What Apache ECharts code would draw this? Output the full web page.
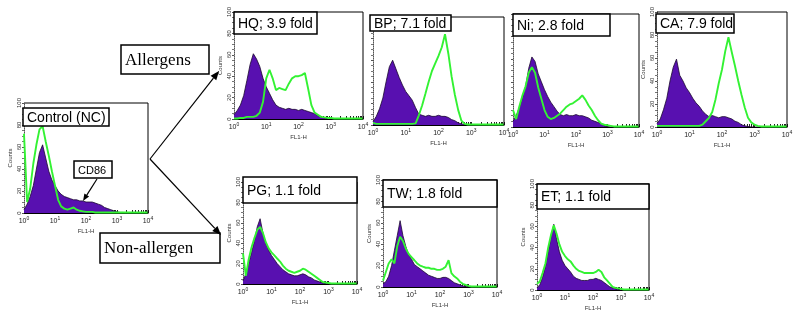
<!DOCTYPE html>
<html>
<head>
<meta charset="utf-8">
<script src="https://cdn.jsdelivr.net/npm/echarts@6/dist/echarts.min.js"></script>
<style>
  html, body { margin: 0; padding: 0; background: #fff; }
  #chart { width: 800px; height: 315px; }
</style>
</head>
<body>
<div id="chart"></div>
<script>
// FL1-H channels, 10 per decade (10^0 .. 10^4)
const channels = [1, 1.26, 1.58, 2, 2.51, 3.16, 3.98, 5.01, 6.31, 7.94,
  10, 12.6, 15.8, 20, 25.1, 31.6, 39.8, 50.1, 63.1, 79.4,
  100, 126, 158, 200, 251, 316, 398, 501, 631, 794,
  1000, 1259, 1585, 1995, 2512, 3162, 3981, 5012, 6310, 7943, 10000]
const decadeTicks = [1, 10, 100, 1000, 10000]

// counts per channel: purple = base histogram, green = treated overlay
const ncBase = [3, 8, 15, 25, 40, 55, 62, 50, 38, 30,
  25, 20, 17, 15, 14, 13, 12, 12, 11, 11,
  10, 10, 10, 9, 8, 7, 5, 4, 3, 2,
  1, 0.5, 0.5, 0, 0, 0, 0, 0, 0, 0, 0]
const ncTreated = [72, 10, 22, 45, 62, 76, 79, 65, 52, 38,
  25, 12, 6, 4, 3, 4, 5, 3, 2, 1.5,
  1, 1, 1, 0.5, 0.5, 0.5, 0.5, 0.5, 0.5, 0.5,
  0.5, 0.5, 0.5, 0.5, 0.5, 0.5, 0.5, 0.5, 0.5, 0.5, 0.5]

const hqBase = [4, 8, 13, 22, 36, 51, 61, 56, 49, 38,
  30, 24, 18, 13, 11, 10, 9, 10, 9, 9,
  8, 9, 8, 7, 6, 5, 3, 2, 1, 0.5,
  0, 0, 0, 0, 0, 0, 0, 0, 0, 0, 0]
const hqTreated = [0.5, 0.5, 1, 1, 2, 2, 2, 3, 6, 16,
  38, 46, 38, 27, 29, 28, 27, 33, 38, 40,
  40, 41, 43, 28, 13, 6, 4, 2, 1.5, 1,
  1, 0.5, 0.5, 0.5, 0.5, 0.5, 0.5, 0.5, 0.5, 0.5, 0.5]

const bpBase = [3, 8, 15, 25, 40, 54, 60, 52, 44, 37,
  31, 27, 23, 16, 10, 9, 8, 9, 8, 8,
  9, 8, 8, 7, 5, 4, 2, 1, 0.5, 0,
  0, 0, 0, 0, 0, 0, 0, 0, 0, 0, 0]
const bpTreated = [2, 1, 1, 1, 1, 1, 1, 1, 1, 1,
  1, 1, 1, 1.5, 9, 18, 29, 40, 50, 57,
  64, 72, 84, 66, 45, 28, 14, 4, 1, 0.5,
  0.5, 0.5, 0.5, 0.5, 0.5, 0.5, 0.5, 0.5, 0.5, 0.5, 0.5]

const niBase = [5, 10, 17, 26, 36, 52, 62, 58, 47, 40,
  33, 27, 22, 18, 14, 11, 10, 11, 10, 10,
  11, 10, 10, 9, 8, 6, 5, 4, 3, 1,
  0.5, 0, 0, 0, 0, 0, 0, 0, 0, 0, 0]
const niTreated = [15, 7, 18, 28, 36, 48, 53, 48, 35, 25,
  15, 9, 7, 8, 10, 12, 15, 18, 20, 21,
  23, 25, 28, 24, 19, 15, 10, 6, 3, 2,
  1.5, 1, 0.5, 0.5, 0.5, 0.5, 0.5, 0.5, 0.5, 0.5, 0.5]

const caBase = [3, 7, 15, 25, 40, 52, 59, 45, 40, 34,
  30, 25, 21, 18, 14, 11, 9, 10, 9, 8,
  9, 9, 8, 7, 5, 4, 2, 1, 0.5, 0,
  0, 0, 0, 0, 0, 0, 0, 0, 0, 0, 0]
const caTreated = [1, 1, 1, 1, 1, 1, 1, 1, 1, 1,
  1, 1, 1, 1, 2, 5, 8, 13, 24, 38,
  50, 66, 78, 65, 53, 40, 28, 17, 8, 4,
  2, 1, 0.5, 0.5, 0.5, 0.5, 0.5, 0.5, 0.5, 0.5, 0.5]

const pgBase = [3, 10, 20, 31, 42, 56, 64, 50, 40, 33,
  28, 24, 20, 17, 14, 12, 10, 9, 8, 8,
  9, 10, 9, 7, 6, 4, 3, 2, 1, 0.5,
  0, 0, 0, 0, 0, 0, 0, 0, 0, 0, 0]
const pgTreated = [30, 8, 24, 36, 45, 53, 56, 50, 41, 35,
  31, 28, 25, 22, 18, 15, 13, 12, 11, 12,
  13, 15, 14, 12, 10, 8, 6, 4, 2, 1.5,
  1, 0.5, 0.5, 0.5, 0.5, 0.5, 0.5, 0.5, 0.5, 0.5, 0.5]

const twBase = [3, 5, 10, 20, 34, 48, 62, 48, 38, 30,
  26, 21, 19, 17, 15, 13, 11, 10, 9, 8,
  8, 9, 9, 8, 6, 4, 3, 2, 1, 0.5,
  0, 0, 0, 0, 0, 0, 0, 0, 0, 0, 0]
const twTreated = [6, 14, 22, 26, 22, 38, 47, 43, 36, 31,
  28, 25, 22, 20, 19, 18, 18, 17, 17, 16,
  16, 17, 19, 25, 13, 10, 8, 5, 3, 2,
  1, 0.5, 0.5, 0.5, 0.5, 0.5, 0.5, 0.5, 0.5, 0.5, 0.5]

const etBase = [2, 5, 12, 22, 36, 50, 62, 48, 36, 28,
  23, 20, 17, 13, 11, 10, 9, 9, 9, 10,
  10, 11, 10, 9, 7, 5, 3, 2, 1, 0.5,
  0, 0, 0, 0, 0, 0, 0, 0, 0, 0, 0]
const etTreated = [6, 8, 16, 25, 40, 52, 61, 53, 43, 36,
  32, 29, 27, 23, 20, 18, 17, 16, 16, 16,
  16, 17, 19, 17, 12, 9, 6, 3, 2, 1.5,
  1, 0.5, 0.5, 0.5, 0.5, 0.5, 0.5, 0.5, 0.5, 0.5, 0.5]

const panelTitles = ['Control (NC)', 'HQ; 3.9 fold', 'BP; 7.1 fold', 'Ni; 2.8 fold',
  'CA; 7.9 fold', 'PG; 1.1 fold', 'TW; 1.8 fold', 'ET; 1.1 fold']

// layout: plot rect [left, top, width, height] and title box rect
const panels = [
  { base: ncBase, treated: ncTreated, grid: [24, 103, 124, 110], box: [23, 108, 86, 18], yLabels: true },
  { base: hqBase, treated: hqTreated, grid: [234, 12, 129, 107], box: [234, 12, 83, 22], yLabels: true },
  { base: bpBase, treated: bpTreated, grid: [373, 17, 131, 108], box: [370, 15, 81, 16], yLabels: false },
  { base: niBase, treated: niTreated, grid: [513, 14, 126, 113], box: [513, 14, 97, 22], yLabels: false },
  { base: caBase, treated: caTreated, grid: [657, 12, 130, 115], box: [656, 14, 78, 19], yLabels: true },
  { base: pgBase, treated: pgTreated, grid: [243, 182, 114, 102], box: [243, 177, 114, 26], yLabels: true },
  { base: twBase, treated: twTreated, grid: [383, 180, 114, 107], box: [383, 180, 114, 27], yLabels: true },
  { base: etBase, treated: etTreated, grid: [537, 184, 112, 106], box: [537, 184, 112, 25], yLabels: true }
]

const purple = '#5810b0'
const green = '#33f233'
const sans = 'Liberation Sans'
const serif = 'Liberation Serif'

// log tick marks 1..9 per decade
const minorTicks = []
decadeTicks.slice(0, 4).forEach(d => {
  for (let k = 1; k < 10; k++) minorTicks.push(k * d)
})
minorTicks.push(10000)

const grids = []
const xAxes = []
const yAxes = []
const series = []
const graphics = []

function box(rect, text, font, size) {
  const [x, y, w, h] = rect
  graphics.push({
    type: 'rect', z: 100,
    shape: { x: x, y: y, width: w, height: h },
    style: { fill: '#fff', stroke: '#000', lineWidth: 1.5 }
  })
  graphics.push({
    type: 'text', z: 101,
    style: {
      text: text, x: x + 4, y: y + h / 2 + 1, fill: '#000',
      fontSize: size, fontFamily: font, verticalAlign: 'middle', align: 'left'
    }
  })
}

function arrow(x1, y1, x2, y2, head) {
  const a = Math.atan2(y2 - y1, x2 - x1)
  const bx = x2 - head * Math.cos(a)
  const by = y2 - head * Math.sin(a)
  const px = Math.sin(a) * head * 0.4
  const py = -Math.cos(a) * head * 0.4
  graphics.push({
    type: 'line', z: 100,
    shape: { x1: x1, y1: y1, x2: bx, y2: by },
    style: { stroke: '#000', lineWidth: 1.2 }
  })
  graphics.push({
    type: 'polygon', z: 100,
    shape: { points: [[x2, y2], [bx + px, by + py], [bx - px, by - py]] },
    style: { fill: '#000' }
  })
}

panels.forEach((p, i) => {
  const [l, t, w, h] = p.grid
  grids.push({ left: l, top: t, width: w, height: h })
  xAxes.push({
    gridIndex: i, type: 'log', logBase: 10, min: 1, max: 10000,
    name: 'FL1-H', nameLocation: 'middle', nameGap: 15,
    nameTextStyle: { fontSize: 6, color: '#333', fontFamily: sans },
    axisLine: { lineStyle: { color: '#000', width: 1 } },
    axisTick: { inside: true, length: 3, customValues: minorTicks, lineStyle: { color: '#222' } },
    minorTick: { show: false },
    splitLine: { show: false },
    axisLabel: {
      margin: 3, customValues: decadeTicks, color: '#222', fontFamily: sans,
      formatter: v => '{b|10}{s|' + Math.round(Math.log10(v)) + '}',
      rich: {
        b: { fontSize: 7, fontFamily: sans, color: '#222' },
        s: { fontSize: 5, fontFamily: sans, color: '#222', padding: [0, 0, 5, 0] }
      }
    }
  })
  yAxes.push({
    gridIndex: i, type: 'value', min: 0, max: 100, interval: 20,
    name: p.yLabels ? 'Counts' : '', nameLocation: 'middle', nameGap: 11, nameRotate: 90,
    nameTextStyle: { fontSize: 6, color: '#333', fontFamily: sans },
    axisLine: { show: true, lineStyle: { color: '#555', type: 'dotted' } },
    axisTick: { show: true, length: 2, lineStyle: { color: '#555' } },
    minorTick: { show: true, splitNumber: 4, length: 2, lineStyle: { color: '#777' } },
    splitLine: { show: false },
    axisLabel: { show: p.yLabels, rotate: 90, fontSize: 6, margin: 2, color: '#333', fontFamily: sans }
  })
  series.push({
    type: 'line', xAxisIndex: i, yAxisIndex: i, symbol: 'none', z: 2,
    data: channels.map((c, k) => [c, p.base[k]]),
    lineStyle: { color: '#1c0a30', width: 0.8 },
    areaStyle: { color: purple, opacity: 1 }
  })
  series.push({
    type: 'line', xAxisIndex: i, yAxisIndex: i, symbol: 'none', z: 3,
    data: channels.map((c, k) => [c, p.treated[k]]),
    lineStyle: { color: green, width: 1.9 }
  })
  // top and right frame
  graphics.push({
    type: 'polyline', z: 50,
    shape: { points: [[l, t], [l + w, t], [l + w, t + h]] },
    style: { stroke: '#000', lineWidth: 1, fill: null }
  })
  box(p.box, panelTitles[i], sans, 14)
})

box([74, 161, 38, 17], 'CD86', sans, 11)
box([121, 45, 88, 29], 'Allergens', serif, 17)
box([100, 233, 120, 30], 'Non-allergen', serif, 17)
arrow(97, 179, 83, 201, 7)
arrow(150, 159, 219, 71, 9)
arrow(150, 159, 221, 235, 9)

const chart = echarts.init(document.getElementById('chart'))
chart.setOption({
  animation: false,
  grid: grids,
  xAxis: xAxes,
  yAxis: yAxes,
  series: series,
  graphic: graphics
})
</script>
</body>
</html>
